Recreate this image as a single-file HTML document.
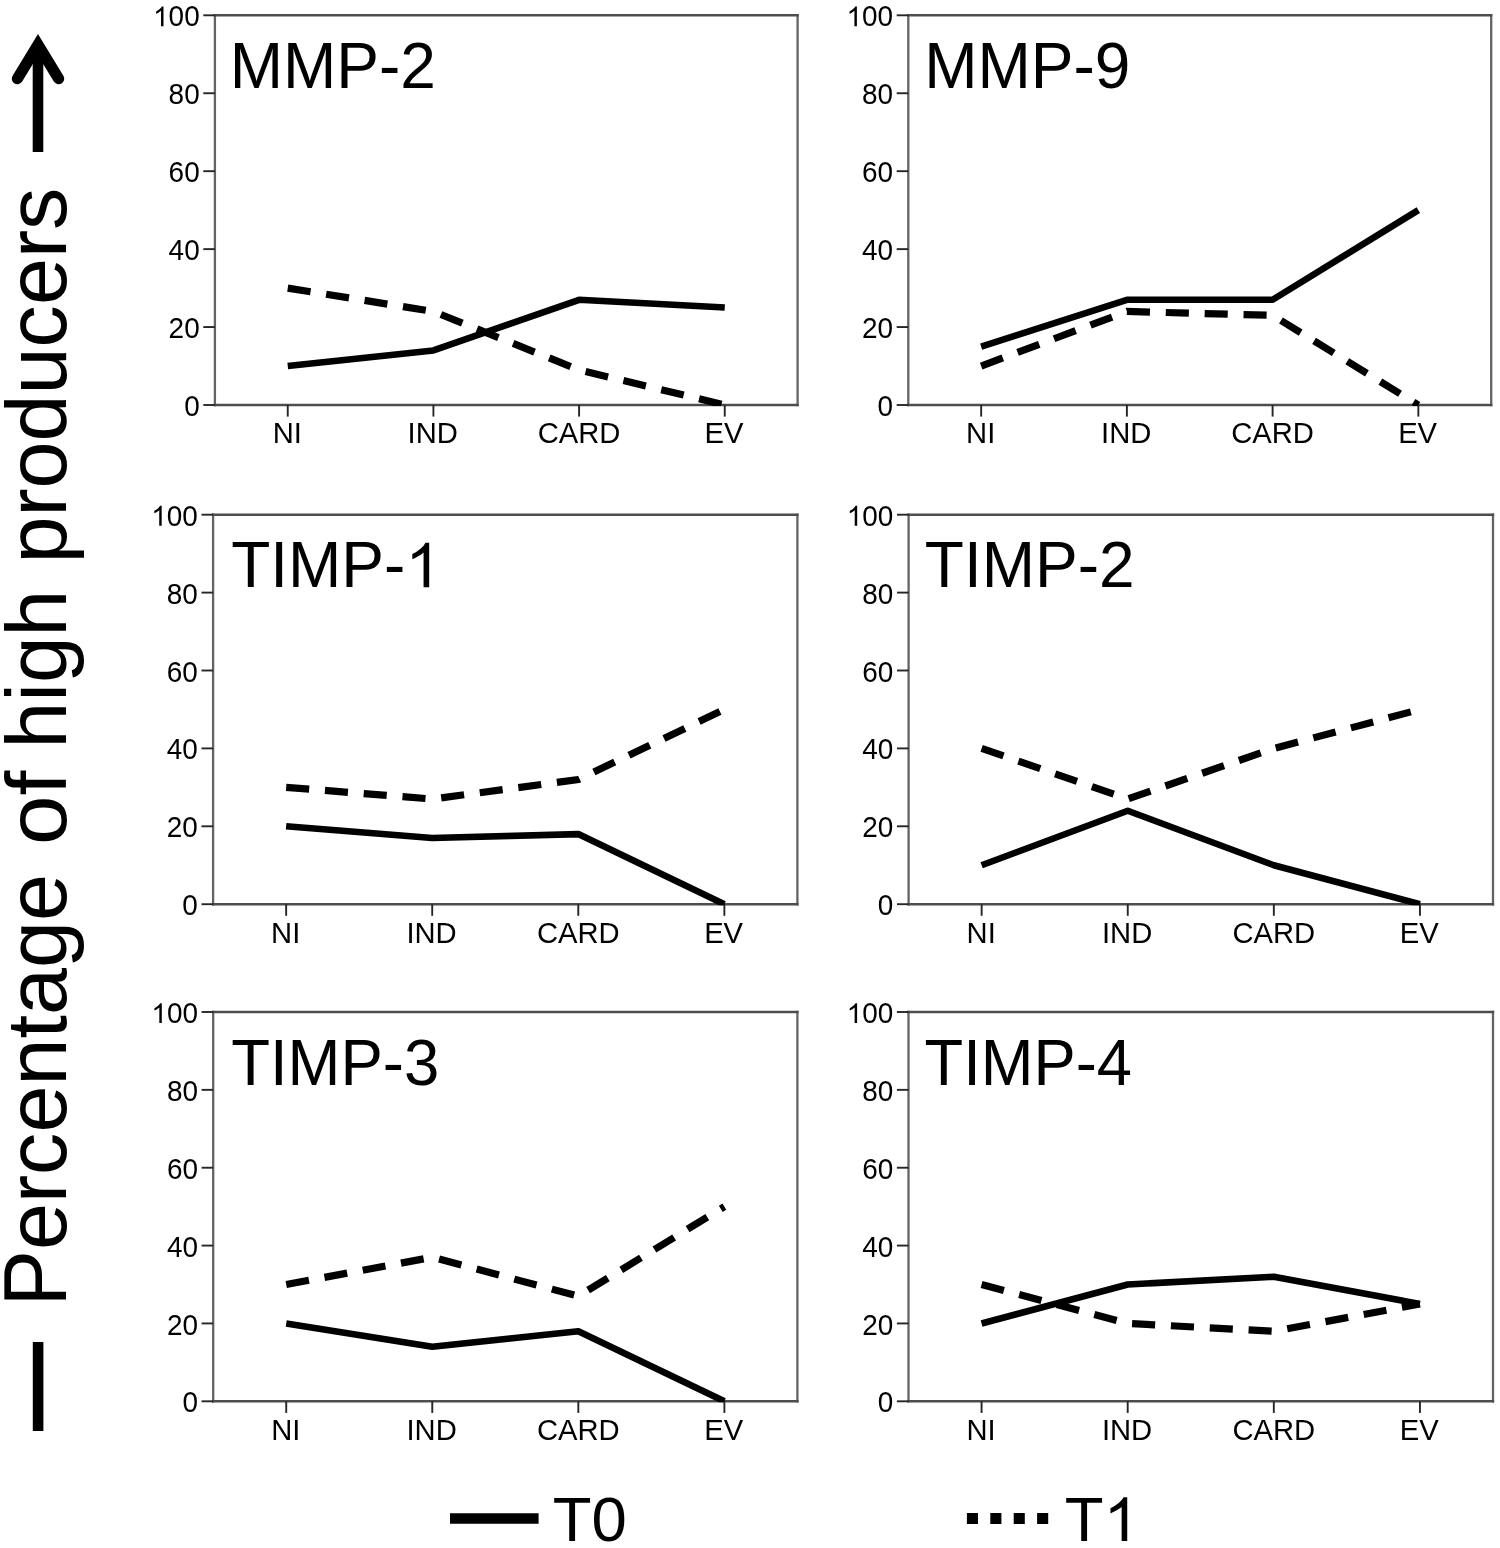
<!DOCTYPE html>
<html><head><meta charset="utf-8"><title>Percentage of high producers</title>
<style>
html,body{margin:0;padding:0;background:#fff;}
svg{display:block;}
text{font-family:"Liberation Sans",sans-serif;fill:#000;}
</style></head><body>
<svg width="1500" height="1548" viewBox="0 0 1500 1548">
<rect width="1500" height="1548" fill="#fff"/>
<filter id="soft" filterUnits="userSpaceOnUse" x="0" y="0" width="1500" height="1548"><feGaussianBlur stdDeviation="0.55"/></filter>
<g filter="url(#soft)">
<defs>
<clipPath id="cp00"><rect x="214.9" y="-4.70" width="582.70" height="410.70"/></clipPath>
<clipPath id="cp01"><rect x="908.3" y="-4.70" width="582.90" height="410.70"/></clipPath>
<clipPath id="cp10"><rect x="213.1" y="494.70" width="584.30" height="410.50"/></clipPath>
<clipPath id="cp11"><rect x="908.6" y="494.70" width="584.40" height="410.50"/></clipPath>
<clipPath id="cp20"><rect x="213.2" y="992.00" width="584.20" height="410.30"/></clipPath>
<clipPath id="cp21"><rect x="908.5" y="992.00" width="584.50" height="410.30"/></clipPath>
</defs>
<g>
<path d="M214.9 14.10V406.20M797.6 14.10V406.20" fill="none" stroke="#646464" stroke-width="2.3"/>
<path d="M213.75 15.3H798.75M213.75 405.0H798.75" fill="none" stroke="#4d4d4d" stroke-width="2.4"/>
<line x1="203.30" y1="405.00" x2="214.9" y2="405.00" stroke="#262626" stroke-width="1.9"/>
<g transform="translate(184.15,416.06) scale(0.9700,1.0000)">
<text x="0.00" y="0" font-size="28.8">0</text>
</g>
<line x1="203.30" y1="327.06" x2="214.9" y2="327.06" stroke="#262626" stroke-width="1.9"/>
<g transform="translate(168.62,338.12) scale(0.9700,1.0000)">
<text x="0.00" y="0" font-size="28.8">20</text>
</g>
<line x1="203.30" y1="249.12" x2="214.9" y2="249.12" stroke="#262626" stroke-width="1.9"/>
<g transform="translate(168.62,260.18) scale(0.9700,1.0000)">
<text x="0.00" y="0" font-size="28.8">40</text>
</g>
<line x1="203.30" y1="171.18" x2="214.9" y2="171.18" stroke="#262626" stroke-width="1.9"/>
<g transform="translate(168.62,182.24) scale(0.9700,1.0000)">
<text x="0.00" y="0" font-size="28.8">60</text>
</g>
<line x1="203.30" y1="93.24" x2="214.9" y2="93.24" stroke="#262626" stroke-width="1.9"/>
<g transform="translate(168.62,104.30) scale(0.9700,1.0000)">
<text x="0.00" y="0" font-size="28.8">80</text>
</g>
<line x1="203.30" y1="15.30" x2="214.9" y2="15.30" stroke="#262626" stroke-width="1.9"/>
<g transform="translate(153.08,26.36) scale(0.9700,1.0000)">
<path transform="translate(0.00,0) scale(0.01406,-0.01352)" d="M763 0H583V1147Q518 1085 412.5 1023T223 930V1104Q374 1175 487 1276T647 1472H763Z"/>
<text x="16.02" y="0" font-size="28.8">00</text>
</g>
<line x1="287.74" y1="405.0" x2="287.74" y2="416.60" stroke="#262626" stroke-width="1.9"/>
<g transform="translate(272.69,443.30) scale(1.0000,1.0000)">
<text x="0.00" y="0" font-size="29.2">NI</text>
</g>
<line x1="433.41" y1="405.0" x2="433.41" y2="416.60" stroke="#262626" stroke-width="1.9"/>
<g transform="translate(407.62,443.30) scale(1.0000,1.0000)">
<text x="0.00" y="0" font-size="29.2">IND</text>
</g>
<line x1="579.09" y1="405.0" x2="579.09" y2="416.60" stroke="#262626" stroke-width="1.9"/>
<g transform="translate(537.68,443.30) scale(1.0000,1.0000)">
<text x="0.00" y="0" font-size="29.2">CARD</text>
</g>
<line x1="724.76" y1="405.0" x2="724.76" y2="416.60" stroke="#262626" stroke-width="1.9"/>
<g transform="translate(704.55,443.30) scale(1.0000,1.0000)">
<text x="0.00" y="0" font-size="29.2">EV</text>
</g>
<g transform="translate(229.65,88.30) scale(1.0000,1.0080)">
<text x="0.00" y="0" font-size="64">MMP-2</text>
</g>
<g clip-path="url(#cp00)">
<polyline points="287.74,288.09 433.41,311.47 579.09,369.93 724.76,405.00" fill="none" stroke="#000" stroke-width="7.2" stroke-dasharray="23.1 15.8" stroke-linejoin="miter"/>
<polyline points="287.74,366.03 433.41,350.44 579.09,299.78 724.76,307.57" fill="none" stroke="#000" stroke-width="6.6" stroke-linejoin="round"/>
</g></g>
<g>
<path d="M908.3 14.10V406.20M1491.2 14.10V406.20" fill="none" stroke="#646464" stroke-width="2.3"/>
<path d="M907.15 15.3H1492.35M907.15 405.0H1492.35" fill="none" stroke="#4d4d4d" stroke-width="2.4"/>
<line x1="896.70" y1="405.00" x2="908.3" y2="405.00" stroke="#262626" stroke-width="1.9"/>
<g transform="translate(877.55,416.06) scale(0.9700,1.0000)">
<text x="0.00" y="0" font-size="28.8">0</text>
</g>
<line x1="896.70" y1="327.06" x2="908.3" y2="327.06" stroke="#262626" stroke-width="1.9"/>
<g transform="translate(862.02,338.12) scale(0.9700,1.0000)">
<text x="0.00" y="0" font-size="28.8">20</text>
</g>
<line x1="896.70" y1="249.12" x2="908.3" y2="249.12" stroke="#262626" stroke-width="1.9"/>
<g transform="translate(862.02,260.18) scale(0.9700,1.0000)">
<text x="0.00" y="0" font-size="28.8">40</text>
</g>
<line x1="896.70" y1="171.18" x2="908.3" y2="171.18" stroke="#262626" stroke-width="1.9"/>
<g transform="translate(862.02,182.24) scale(0.9700,1.0000)">
<text x="0.00" y="0" font-size="28.8">60</text>
</g>
<line x1="896.70" y1="93.24" x2="908.3" y2="93.24" stroke="#262626" stroke-width="1.9"/>
<g transform="translate(862.02,104.30) scale(0.9700,1.0000)">
<text x="0.00" y="0" font-size="28.8">80</text>
</g>
<line x1="896.70" y1="15.30" x2="908.3" y2="15.30" stroke="#262626" stroke-width="1.9"/>
<g transform="translate(846.48,26.36) scale(0.9700,1.0000)">
<path transform="translate(0.00,0) scale(0.01406,-0.01352)" d="M763 0H583V1147Q518 1085 412.5 1023T223 930V1104Q374 1175 487 1276T647 1472H763Z"/>
<text x="16.02" y="0" font-size="28.8">00</text>
</g>
<line x1="981.16" y1="405.0" x2="981.16" y2="416.60" stroke="#262626" stroke-width="1.9"/>
<g transform="translate(966.11,443.30) scale(1.0000,1.0000)">
<text x="0.00" y="0" font-size="29.2">NI</text>
</g>
<line x1="1126.89" y1="405.0" x2="1126.89" y2="416.60" stroke="#262626" stroke-width="1.9"/>
<g transform="translate(1101.10,443.30) scale(1.0000,1.0000)">
<text x="0.00" y="0" font-size="29.2">IND</text>
</g>
<line x1="1272.61" y1="405.0" x2="1272.61" y2="416.60" stroke="#262626" stroke-width="1.9"/>
<g transform="translate(1231.20,443.30) scale(1.0000,1.0000)">
<text x="0.00" y="0" font-size="29.2">CARD</text>
</g>
<line x1="1418.34" y1="405.0" x2="1418.34" y2="416.60" stroke="#262626" stroke-width="1.9"/>
<g transform="translate(1398.13,443.30) scale(1.0000,1.0000)">
<text x="0.00" y="0" font-size="29.2">EV</text>
</g>
<g transform="translate(924.25,88.00) scale(1.0000,1.0080)">
<text x="0.00" y="0" font-size="64">MMP-9</text>
</g>
<g clip-path="url(#cp01)">
<polyline points="981.16,366.03 1126.89,311.47 1272.61,315.37 1418.34,405.00" fill="none" stroke="#000" stroke-width="7.2" stroke-dasharray="23.1 15.8" stroke-linejoin="miter"/>
<polyline points="981.16,346.55 1126.89,299.78 1272.61,299.78 1418.34,210.15" fill="none" stroke="#000" stroke-width="6.6" stroke-linejoin="round"/>
</g></g>
<g>
<path d="M213.1 513.50V905.40M797.4 513.50V905.40" fill="none" stroke="#646464" stroke-width="2.3"/>
<path d="M211.95 514.7H798.55M211.95 904.2H798.55" fill="none" stroke="#4d4d4d" stroke-width="2.4"/>
<line x1="201.50" y1="904.20" x2="213.1" y2="904.20" stroke="#262626" stroke-width="1.9"/>
<g transform="translate(182.35,915.26) scale(0.9700,1.0000)">
<text x="0.00" y="0" font-size="28.8">0</text>
</g>
<line x1="201.50" y1="826.30" x2="213.1" y2="826.30" stroke="#262626" stroke-width="1.9"/>
<g transform="translate(166.82,837.36) scale(0.9700,1.0000)">
<text x="0.00" y="0" font-size="28.8">20</text>
</g>
<line x1="201.50" y1="748.40" x2="213.1" y2="748.40" stroke="#262626" stroke-width="1.9"/>
<g transform="translate(166.82,759.46) scale(0.9700,1.0000)">
<text x="0.00" y="0" font-size="28.8">40</text>
</g>
<line x1="201.50" y1="670.50" x2="213.1" y2="670.50" stroke="#262626" stroke-width="1.9"/>
<g transform="translate(166.82,681.56) scale(0.9700,1.0000)">
<text x="0.00" y="0" font-size="28.8">60</text>
</g>
<line x1="201.50" y1="592.60" x2="213.1" y2="592.60" stroke="#262626" stroke-width="1.9"/>
<g transform="translate(166.82,603.66) scale(0.9700,1.0000)">
<text x="0.00" y="0" font-size="28.8">80</text>
</g>
<line x1="201.50" y1="514.70" x2="213.1" y2="514.70" stroke="#262626" stroke-width="1.9"/>
<g transform="translate(151.28,525.76) scale(0.9700,1.0000)">
<path transform="translate(0.00,0) scale(0.01406,-0.01352)" d="M763 0H583V1147Q518 1085 412.5 1023T223 930V1104Q374 1175 487 1276T647 1472H763Z"/>
<text x="16.02" y="0" font-size="28.8">00</text>
</g>
<line x1="286.14" y1="904.2" x2="286.14" y2="915.80" stroke="#262626" stroke-width="1.9"/>
<g transform="translate(271.09,942.50) scale(1.0000,1.0000)">
<text x="0.00" y="0" font-size="29.2">NI</text>
</g>
<line x1="432.21" y1="904.2" x2="432.21" y2="915.80" stroke="#262626" stroke-width="1.9"/>
<g transform="translate(406.42,942.50) scale(1.0000,1.0000)">
<text x="0.00" y="0" font-size="29.2">IND</text>
</g>
<line x1="578.29" y1="904.2" x2="578.29" y2="915.80" stroke="#262626" stroke-width="1.9"/>
<g transform="translate(536.88,942.50) scale(1.0000,1.0000)">
<text x="0.00" y="0" font-size="29.2">CARD</text>
</g>
<line x1="724.36" y1="904.2" x2="724.36" y2="915.80" stroke="#262626" stroke-width="1.9"/>
<g transform="translate(704.15,942.50) scale(1.0000,1.0000)">
<text x="0.00" y="0" font-size="29.2">EV</text>
</g>
<g transform="translate(231.16,587.30) scale(1.0000,1.0080)">
<text x="0.00" y="0" font-size="64">TIMP-</text>
<path transform="translate(174.19,0) scale(0.03125,-0.03003)" d="M763 0H583V1147Q518 1085 412.5 1023T223 930V1104Q374 1175 487 1276T647 1472H763Z"/>
</g>
<g clip-path="url(#cp10)">
<polyline points="286.14,787.35 432.21,799.04 578.29,779.56 724.36,709.45" fill="none" stroke="#000" stroke-width="7.2" stroke-dasharray="23.1 15.8" stroke-linejoin="miter"/>
<polyline points="286.14,826.30 432.21,837.99 578.29,834.09 724.36,904.20" fill="none" stroke="#000" stroke-width="6.6" stroke-linejoin="round"/>
</g></g>
<g>
<path d="M908.6 513.50V905.40M1493.0 513.50V905.40" fill="none" stroke="#646464" stroke-width="2.3"/>
<path d="M907.45 514.7H1494.15M907.45 904.2H1494.15" fill="none" stroke="#4d4d4d" stroke-width="2.4"/>
<line x1="897.00" y1="904.20" x2="908.6" y2="904.20" stroke="#262626" stroke-width="1.9"/>
<g transform="translate(877.85,915.26) scale(0.9700,1.0000)">
<text x="0.00" y="0" font-size="28.8">0</text>
</g>
<line x1="897.00" y1="826.30" x2="908.6" y2="826.30" stroke="#262626" stroke-width="1.9"/>
<g transform="translate(862.32,837.36) scale(0.9700,1.0000)">
<text x="0.00" y="0" font-size="28.8">20</text>
</g>
<line x1="897.00" y1="748.40" x2="908.6" y2="748.40" stroke="#262626" stroke-width="1.9"/>
<g transform="translate(862.32,759.46) scale(0.9700,1.0000)">
<text x="0.00" y="0" font-size="28.8">40</text>
</g>
<line x1="897.00" y1="670.50" x2="908.6" y2="670.50" stroke="#262626" stroke-width="1.9"/>
<g transform="translate(862.32,681.56) scale(0.9700,1.0000)">
<text x="0.00" y="0" font-size="28.8">60</text>
</g>
<line x1="897.00" y1="592.60" x2="908.6" y2="592.60" stroke="#262626" stroke-width="1.9"/>
<g transform="translate(862.32,603.66) scale(0.9700,1.0000)">
<text x="0.00" y="0" font-size="28.8">80</text>
</g>
<line x1="897.00" y1="514.70" x2="908.6" y2="514.70" stroke="#262626" stroke-width="1.9"/>
<g transform="translate(846.78,525.76) scale(0.9700,1.0000)">
<path transform="translate(0.00,0) scale(0.01406,-0.01352)" d="M763 0H583V1147Q518 1085 412.5 1023T223 930V1104Q374 1175 487 1276T647 1472H763Z"/>
<text x="16.02" y="0" font-size="28.8">00</text>
</g>
<line x1="981.65" y1="904.2" x2="981.65" y2="915.80" stroke="#262626" stroke-width="1.9"/>
<g transform="translate(966.60,942.50) scale(1.0000,1.0000)">
<text x="0.00" y="0" font-size="29.2">NI</text>
</g>
<line x1="1127.75" y1="904.2" x2="1127.75" y2="915.80" stroke="#262626" stroke-width="1.9"/>
<g transform="translate(1101.96,942.50) scale(1.0000,1.0000)">
<text x="0.00" y="0" font-size="29.2">IND</text>
</g>
<line x1="1273.85" y1="904.2" x2="1273.85" y2="915.80" stroke="#262626" stroke-width="1.9"/>
<g transform="translate(1232.44,942.50) scale(1.0000,1.0000)">
<text x="0.00" y="0" font-size="29.2">CARD</text>
</g>
<line x1="1419.95" y1="904.2" x2="1419.95" y2="915.80" stroke="#262626" stroke-width="1.9"/>
<g transform="translate(1399.74,942.50) scale(1.0000,1.0000)">
<text x="0.00" y="0" font-size="29.2">EV</text>
</g>
<g transform="translate(924.86,587.30) scale(1.0000,1.0080)">
<text x="0.00" y="0" font-size="64">TIMP-2</text>
</g>
<g clip-path="url(#cp11)">
<polyline points="981.65,748.40 1127.75,799.04 1273.85,748.40 1419.95,709.45" fill="none" stroke="#000" stroke-width="7.2" stroke-dasharray="23.1 15.8" stroke-linejoin="miter"/>
<polyline points="981.65,865.25 1127.75,810.72 1273.85,865.25 1419.95,904.20" fill="none" stroke="#000" stroke-width="6.6" stroke-linejoin="round"/>
</g></g>
<g>
<path d="M213.2 1010.80V1402.50M797.4 1010.80V1402.50" fill="none" stroke="#646464" stroke-width="2.3"/>
<path d="M212.05 1012.0H798.55M212.05 1401.3H798.55" fill="none" stroke="#4d4d4d" stroke-width="2.4"/>
<line x1="201.60" y1="1401.30" x2="213.2" y2="1401.30" stroke="#262626" stroke-width="1.9"/>
<g transform="translate(182.45,1412.36) scale(0.9700,1.0000)">
<text x="0.00" y="0" font-size="28.8">0</text>
</g>
<line x1="201.60" y1="1323.44" x2="213.2" y2="1323.44" stroke="#262626" stroke-width="1.9"/>
<g transform="translate(166.92,1334.50) scale(0.9700,1.0000)">
<text x="0.00" y="0" font-size="28.8">20</text>
</g>
<line x1="201.60" y1="1245.58" x2="213.2" y2="1245.58" stroke="#262626" stroke-width="1.9"/>
<g transform="translate(166.92,1256.64) scale(0.9700,1.0000)">
<text x="0.00" y="0" font-size="28.8">40</text>
</g>
<line x1="201.60" y1="1167.72" x2="213.2" y2="1167.72" stroke="#262626" stroke-width="1.9"/>
<g transform="translate(166.92,1178.78) scale(0.9700,1.0000)">
<text x="0.00" y="0" font-size="28.8">60</text>
</g>
<line x1="201.60" y1="1089.86" x2="213.2" y2="1089.86" stroke="#262626" stroke-width="1.9"/>
<g transform="translate(166.92,1100.92) scale(0.9700,1.0000)">
<text x="0.00" y="0" font-size="28.8">80</text>
</g>
<line x1="201.60" y1="1012.00" x2="213.2" y2="1012.00" stroke="#262626" stroke-width="1.9"/>
<g transform="translate(151.38,1023.06) scale(0.9700,1.0000)">
<path transform="translate(0.00,0) scale(0.01406,-0.01352)" d="M763 0H583V1147Q518 1085 412.5 1023T223 930V1104Q374 1175 487 1276T647 1472H763Z"/>
<text x="16.02" y="0" font-size="28.8">00</text>
</g>
<line x1="286.23" y1="1401.3" x2="286.23" y2="1412.90" stroke="#262626" stroke-width="1.9"/>
<g transform="translate(271.17,1439.60) scale(1.0000,1.0000)">
<text x="0.00" y="0" font-size="29.2">NI</text>
</g>
<line x1="432.27" y1="1401.3" x2="432.27" y2="1412.90" stroke="#262626" stroke-width="1.9"/>
<g transform="translate(406.48,1439.60) scale(1.0000,1.0000)">
<text x="0.00" y="0" font-size="29.2">IND</text>
</g>
<line x1="578.33" y1="1401.3" x2="578.33" y2="1412.90" stroke="#262626" stroke-width="1.9"/>
<g transform="translate(536.91,1439.60) scale(1.0000,1.0000)">
<text x="0.00" y="0" font-size="29.2">CARD</text>
</g>
<line x1="724.38" y1="1401.3" x2="724.38" y2="1412.90" stroke="#262626" stroke-width="1.9"/>
<g transform="translate(704.17,1439.60) scale(1.0000,1.0000)">
<text x="0.00" y="0" font-size="29.2">EV</text>
</g>
<g transform="translate(231.17,1084.70) scale(0.9920,1.0080)">
<text x="0.00" y="0" font-size="64">TIMP-3</text>
</g>
<g clip-path="url(#cp20)">
<polyline points="286.23,1284.51 432.27,1257.26 578.33,1296.19 724.38,1206.65" fill="none" stroke="#000" stroke-width="7.2" stroke-dasharray="23.1 15.8" stroke-linejoin="miter"/>
<polyline points="286.23,1323.44 432.27,1346.80 578.33,1331.23 724.38,1401.30" fill="none" stroke="#000" stroke-width="6.6" stroke-linejoin="round"/>
</g></g>
<g>
<path d="M908.5 1010.80V1402.50M1493.0 1010.80V1402.50" fill="none" stroke="#646464" stroke-width="2.3"/>
<path d="M907.35 1012.0H1494.15M907.35 1401.3H1494.15" fill="none" stroke="#4d4d4d" stroke-width="2.4"/>
<line x1="896.90" y1="1401.30" x2="908.5" y2="1401.30" stroke="#262626" stroke-width="1.9"/>
<g transform="translate(877.75,1412.36) scale(0.9700,1.0000)">
<text x="0.00" y="0" font-size="28.8">0</text>
</g>
<line x1="896.90" y1="1323.44" x2="908.5" y2="1323.44" stroke="#262626" stroke-width="1.9"/>
<g transform="translate(862.22,1334.50) scale(0.9700,1.0000)">
<text x="0.00" y="0" font-size="28.8">20</text>
</g>
<line x1="896.90" y1="1245.58" x2="908.5" y2="1245.58" stroke="#262626" stroke-width="1.9"/>
<g transform="translate(862.22,1256.64) scale(0.9700,1.0000)">
<text x="0.00" y="0" font-size="28.8">40</text>
</g>
<line x1="896.90" y1="1167.72" x2="908.5" y2="1167.72" stroke="#262626" stroke-width="1.9"/>
<g transform="translate(862.22,1178.78) scale(0.9700,1.0000)">
<text x="0.00" y="0" font-size="28.8">60</text>
</g>
<line x1="896.90" y1="1089.86" x2="908.5" y2="1089.86" stroke="#262626" stroke-width="1.9"/>
<g transform="translate(862.22,1100.92) scale(0.9700,1.0000)">
<text x="0.00" y="0" font-size="28.8">80</text>
</g>
<line x1="896.90" y1="1012.00" x2="908.5" y2="1012.00" stroke="#262626" stroke-width="1.9"/>
<g transform="translate(846.68,1023.06) scale(0.9700,1.0000)">
<path transform="translate(0.00,0) scale(0.01406,-0.01352)" d="M763 0H583V1147Q518 1085 412.5 1023T223 930V1104Q374 1175 487 1276T647 1472H763Z"/>
<text x="16.02" y="0" font-size="28.8">00</text>
</g>
<line x1="981.56" y1="1401.3" x2="981.56" y2="1412.90" stroke="#262626" stroke-width="1.9"/>
<g transform="translate(966.51,1439.60) scale(1.0000,1.0000)">
<text x="0.00" y="0" font-size="29.2">NI</text>
</g>
<line x1="1127.69" y1="1401.3" x2="1127.69" y2="1412.90" stroke="#262626" stroke-width="1.9"/>
<g transform="translate(1101.90,1439.60) scale(1.0000,1.0000)">
<text x="0.00" y="0" font-size="29.2">IND</text>
</g>
<line x1="1273.81" y1="1401.3" x2="1273.81" y2="1412.90" stroke="#262626" stroke-width="1.9"/>
<g transform="translate(1232.40,1439.60) scale(1.0000,1.0000)">
<text x="0.00" y="0" font-size="29.2">CARD</text>
</g>
<line x1="1419.94" y1="1401.3" x2="1419.94" y2="1412.90" stroke="#262626" stroke-width="1.9"/>
<g transform="translate(1399.73,1439.60) scale(1.0000,1.0000)">
<text x="0.00" y="0" font-size="29.2">EV</text>
</g>
<g transform="translate(924.58,1084.70) scale(0.9890,1.0080)">
<text x="0.00" y="0" font-size="64">TIMP-4</text>
</g>
<g clip-path="url(#cp21)">
<polyline points="981.56,1284.51 1127.69,1323.44 1273.81,1331.23 1419.94,1303.97" fill="none" stroke="#000" stroke-width="7.2" stroke-dasharray="23.1 15.8" stroke-linejoin="miter"/>
<polyline points="981.56,1323.44 1127.69,1284.51 1273.81,1276.72 1419.94,1303.97" fill="none" stroke="#000" stroke-width="6.6" stroke-linejoin="round"/>
</g></g>
<g transform="translate(65.7,1306.54) rotate(-90) scale(0.9906,1)"><text x="0" y="0" font-size="85.4" transform="scale(1,1.04)">P</text><text x="56.96" y="0" font-size="85.4">ercentage</text></g>
<g transform="translate(65.7,844.94) rotate(-90) scale(1.0434,1)"><text x="0" y="0" font-size="85.4">of</text></g>
<g transform="translate(65.7,748.53) rotate(-90) scale(0.9841,1)"><text x="0" y="0" font-size="85.4">high</text></g>
<g transform="translate(65.7,563.55) rotate(-90) scale(0.9899,1)"><text x="0" y="0" font-size="85.4">producers</text></g>
<line x1="38.1" y1="1342" x2="38.1" y2="1431" stroke="#000" stroke-width="10.6"/>
<line x1="38.0" y1="152.1" x2="38.0" y2="52" stroke="#000" stroke-width="10.6"/>
<polyline points="17.4,78.6 38.0,44.8 58.6,78.6" fill="none" stroke="#000" stroke-width="11.2" stroke-linecap="round" stroke-linejoin="miter" stroke-miterlimit="10"/>
<line x1="450" y1="1518.5" x2="538.6" y2="1518.5" stroke="#000" stroke-width="10.4"/>
<g transform="translate(552.77,1541.10) scale(1.0000,1.0000)">
<text x="0.00" y="0" font-size="63.5">T0</text>
</g>
<rect x="966.9" y="1513" width="11.1" height="11" fill="#000"/>
<rect x="990.3" y="1513" width="11.1" height="11" fill="#000"/>
<rect x="1013.7" y="1513" width="11.1" height="11" fill="#000"/>
<rect x="1037.1" y="1513" width="11.1" height="11" fill="#000"/>
<g transform="translate(1064.77,1541.10) scale(1.0000,1.0000)">
<text x="0.00" y="0" font-size="63.5">T</text>
<path transform="translate(38.79,0) scale(0.03101,-0.02980)" d="M763 0H583V1147Q518 1085 412.5 1023T223 930V1104Q374 1175 487 1276T647 1472H763Z"/>
</g>
</g></svg></body></html>
